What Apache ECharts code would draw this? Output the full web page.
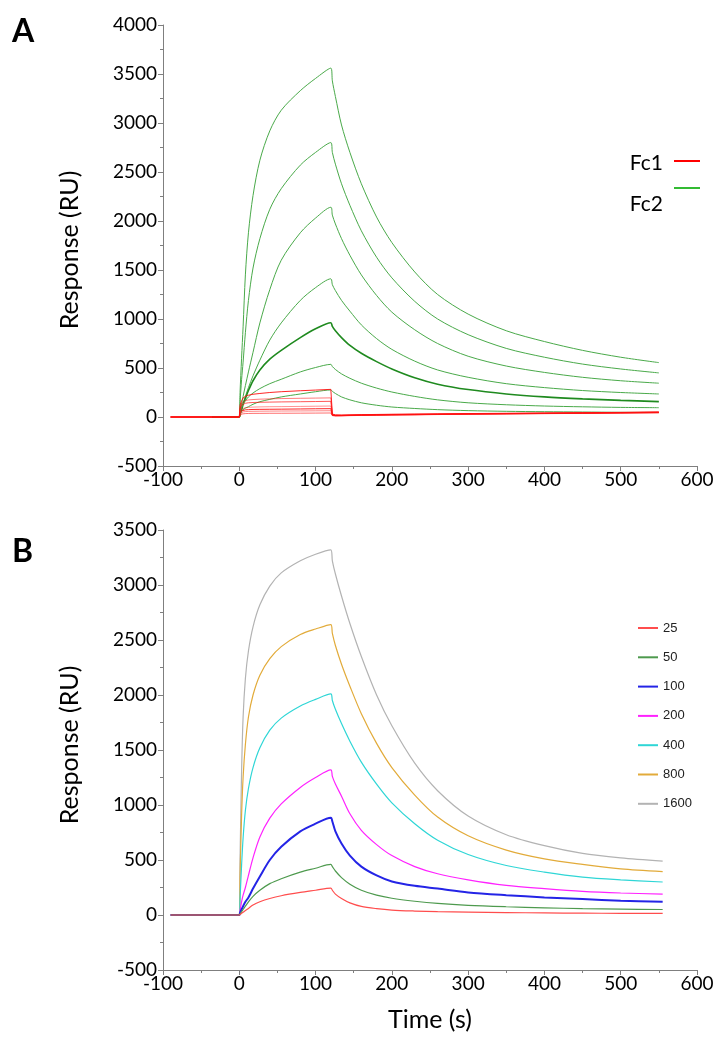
<!DOCTYPE html>
<html>
<head>
<meta charset="utf-8">
<script src="https://cdn.jsdelivr.net/npm/echarts@6/dist/echarts.min.js"></script>
<style>
html,body{margin:0;padding:0;background:#fff;}
#c{width:718px;height:1050px;}
</style>
</head>
<body>
<div id="c"></div>
<script>
// ---- Panel A data (time in s, response in RU) ----
const timeA = [-90,-35,0,1,3,5,8,12,18,27,40,55,80,100,120,122,126,134,145,160,180,200,230,260,300,350,400,450,500,550];
const fc2_1 = [null,0,0,250,600,920,1450,1880,2260,2620,2920,3130,3330,3455,3560,3430,3270,2980,2700,2380,2040,1780,1480,1250,1050,880,770,680,610,555];
const fc2_2 = [null,0,0,150,380,560,860,1190,1520,1820,2120,2330,2570,2700,2800,2700,2580,2380,2160,1900,1630,1420,1180,1000,840,700,610,540,490,450];
const fc2_3 = [null,0,0,80,130,210,320,460,660,960,1300,1600,1880,2030,2140,2060,1970,1820,1650,1450,1240,1070,890,750,620,520,455,405,370,345];
const fc2_4 = [null,0,0,40,90,140,210,300,420,580,785,960,1190,1320,1410,1350,1290,1190,1080,940,800,690,570,480,405,340,300,270,250,235];
const fc2_5 = [null,0,0,30,70,130,190,270,370,480,590,680,810,900,962,925,880,810,730,650,565,490,400,335,280,235,205,185,170,157];
const fc2_6 = [null,0,0,40,90,130,165,205,245,290,340,385,460,505,537,515,485,440,395,345,295,255,210,175,145,125,112,104,98,95];
const fc2_7 = [null,0,0,25,55,75,90,105,130,156,180,205,235,258,276,262,240,205,175,145,120,102,87,75,65,58,54,51,48,46];
const fc1_1 = [0,0,0,120,165,195,210,222,232,240,250,258,268,275,282,30,22,20,22,24,26,28,30,32,35,38,41,44,47,52];
const fc1_2 = [0,0,0,90,140,160,168,174,178,182,185,188,191,193,195,25,18,18,20,22,24,26,28,30,33,36,39,42,45,50];
const fc1_3 = [0,0,0,70,120,135,140,145,148,150,152,154,156,158,160,22,16,16,18,20,22,24,27,29,32,35,38,41,44,48];
const fc1_4 = [0,0,0,50,80,92,96,99,101,103,105,106,108,110,112,20,15,15,17,19,21,23,25,28,31,34,37,40,43,46];
const fc1_5 = [0,0,0,40,62,70,73,75,77,78,79,80,82,84,85,18,14,14,16,18,20,22,24,27,30,33,36,39,42,45];
const fc1_6 = [0,0,0,30,45,52,55,57,58,59,60,61,62,63,64,16,12,13,15,17,19,21,23,26,29,32,35,38,41,44];
const fc1_7 = [0,0,0,20,30,33,35,36,37,37,38,38,39,40,41,14,11,12,14,16,18,20,22,25,28,31,34,37,40,43];

// ---- Panel B data ----
const timeB = [-90,-35,0,1,3,5,8,12,18,27,40,55,80,100,120,122,126,134,145,160,180,200,230,260,300,350,400,450,500,555];
const concNames = ['25','50','100','200','400','800','1600'];
const b25   = [0,0,0,5,15,25,40,60,90,120,150,175,205,225,245,225,190,150,110,78,58,45,36,30,26,22,19,17,15,14];
const b50   = [0,0,0,10,30,50,80,120,170,225,285,330,390,425,460,440,400,340,280,225,180,152,125,105,88,75,65,58,53,50];
const b100  = [0,0,0,20,50,80,120,160,240,350,500,620,760,830,885,850,760,650,540,440,360,305,265,240,205,180,160,145,130,120];
const b200  = [0,0,0,40,120,180,250,360,520,710,880,1010,1160,1250,1320,1260,1190,1080,920,770,640,540,440,375,320,270,240,215,200,190];
const b400  = [0,0,0,150,450,700,950,1150,1340,1520,1680,1790,1900,1960,2010,1950,1870,1740,1580,1390,1190,1020,830,680,550,450,390,345,320,300];
const b800  = [0,0,0,350,900,1250,1550,1800,2000,2180,2330,2440,2550,2600,2640,2560,2450,2280,2080,1830,1560,1340,1090,890,720,590,510,460,420,395];
const b1600 = [0,0,0,500,1300,1800,2150,2400,2620,2820,2990,3110,3220,3280,3320,3220,3100,2900,2650,2350,2000,1720,1380,1130,900,730,630,560,520,490];

const pairs = (t, v) => t.map((x, i) => [x, v[i]]);
const FONT = 'Lato, "Open Sans", sans-serif';

function xAxisCfg(gi) {
  return {
    type: 'value', gridIndex: gi, min: -100, max: 600, interval: 100,
    axisLine: { show: true, onZero: false, lineStyle: { color: '#7f7f7f', width: 1 } },
    axisTick: { show: true, length: 5, lineStyle: { color: '#7f7f7f' } },
    minorTick: { show: true, splitNumber: 2, length: 3, lineStyle: { color: '#7f7f7f' } },
    splitLine: { show: false },
    axisLabel: { fontSize: 19, color: '#000', fontFamily: FONT, margin: 4, formatter: v => String(v) }
  };
}
function yAxisCfg(gi, max) {
  return {
    type: 'value', gridIndex: gi, min: -500, max: max, interval: 500,
    axisLine: { show: true, onZero: false, lineStyle: { color: '#7f7f7f', width: 1 } },
    axisTick: { show: true, length: 5, lineStyle: { color: '#7f7f7f' } },
    minorTick: { show: true, splitNumber: 2, length: 3, lineStyle: { color: '#7f7f7f' } },
    splitLine: { show: false },
    axisLabel: { fontSize: 19, color: '#000', fontFamily: FONT, margin: 6, formatter: v => String(v) }
  };
}

const SMOOTH = 0.3;
const series = [];
const fc2All = [fc2_1, fc2_2, fc2_3, fc2_4, fc2_5, fc2_6, fc2_7];
fc2All.forEach((arr, i) => {
  series.push({
    name: 'Fc2', type: 'line', xAxisIndex: 0, yAxisIndex: 0, showSymbol: false,
    smooth: SMOOTH,
    data: pairs(timeA, arr), z: 2,
    lineStyle: { color: i === 4 ? '#1f8a1f' : '#4aaa4a', width: i === 4 ? 1.6 : 1 },
    itemStyle: { color: '#33bb33' }
  });
});
const fc1All = [fc1_1, fc1_2, fc1_3, fc1_4, fc1_5, fc1_6, fc1_7];
const redOp = [0.9, 0.55, 0.7, 0.45, 0.9, 0.5, 0.6];
fc1All.forEach((arr, i) => {
  series.push({
    name: 'Fc1', type: 'line', xAxisIndex: 0, yAxisIndex: 0, showSymbol: false,
    data: pairs(timeA, arr), z: 3,
    lineStyle: { color: '#ff1010', width: 1, opacity: redOp[i] },
    itemStyle: { color: '#ff1010' }
  });
});

const bAll = [b25, b50, b100, b200, b400, b800, b1600];
const bColors = ['#ff4d4d', '#4e9a4e', '#2424e6', '#ff22ff', '#2fd6d6', '#e2ab3a', '#b3b3b3'];
const bWidth = [1.2, 1.2, 2, 1.2, 1.2, 1.2, 1.2];
bAll.forEach((arr, i) => {
  series.push({
    name: concNames[i], type: 'line', xAxisIndex: 1, yAxisIndex: 1, showSymbol: false,
    smooth: SMOOTH,
    data: pairs(timeB, arr), z: 2 + (7 - i),
    lineStyle: { color: bColors[i], width: bWidth[i] },
    itemStyle: { color: bColors[i] }
  });
});

const chart = echarts.init(document.getElementById('c'), null, { renderer: 'canvas' });
chart.setOption({
  animation: false,
  backgroundColor: '#fff',
  grid: [
    { left: 163, top: 25, width: 534, height: 441 },
    { left: 163, top: 530, width: 534, height: 440 }
  ],
  xAxis: [xAxisCfg(0), xAxisCfg(1)],
  yAxis: [yAxisCfg(0, 4000), yAxisCfg(1, 3500)],
  legend: {
    data: concNames, orient: 'vertical', left: 633, top: 615,
    icon: 'rect', itemWidth: 20, itemHeight: 2, itemGap: 13.3,
    textStyle: { fontSize: 13, lineHeight: 16, color: '#222', fontFamily: '"Liberation Sans", Arial, sans-serif' },
    selectedMode: false
  },
  graphic: [
    { type: 'text', left: 12, top: 16, style: { text: 'A', font: 'bold 32px ' + FONT, fill: '#000' } },
    { type: 'text', left: 12, top: 536, style: { text: 'B', font: 'bold 32px ' + FONT, fill: '#000' } },
    { type: 'text', x: 70, y: 250, rotation: Math.PI / 2, style: { text: 'Response (RU)', font: '25px ' + FONT, fill: '#000', textAlign: 'center', textVerticalAlign: 'middle' } },
    { type: 'text', x: 70, y: 745, rotation: Math.PI / 2, style: { text: 'Response (RU)', font: '25px ' + FONT, fill: '#000', textAlign: 'center', textVerticalAlign: 'middle' } },
    { type: 'text', x: 430, y: 1020, style: { text: 'Time (s)', font: '25px ' + FONT, fill: '#000', textAlign: 'center', textVerticalAlign: 'middle' } },
    { type: 'text', x: 663, y: 163, style: { text: 'Fc1', font: '21px ' + FONT, fill: '#000', textAlign: 'right', textVerticalAlign: 'middle' } },
    { type: 'text', x: 663, y: 204, style: { text: 'Fc2', font: '21px ' + FONT, fill: '#000', textAlign: 'right', textVerticalAlign: 'middle' } },
    { type: 'line', shape: { x1: 674, y1: 161, x2: 700, y2: 161 }, style: { stroke: '#ff0000', lineWidth: 2 } },
    { type: 'line', shape: { x1: 674, y1: 188, x2: 700, y2: 188 }, style: { stroke: '#33bb33', lineWidth: 2 } }
  ],
  series: series
});
</script>
</body>
</html>
